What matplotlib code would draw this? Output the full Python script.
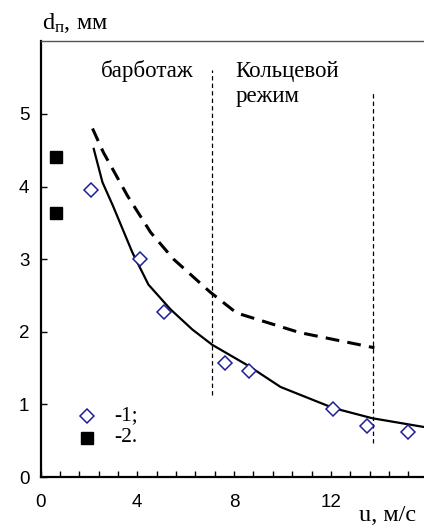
import matplotlib
matplotlib.use("Agg")
import matplotlib.pyplot as plt
from matplotlib.ticker import MultipleLocator, FixedLocator

plt.rcParams["font.family"] = ["Liberation Serif", "DejaVu Serif"]
plt.rcParams["mathtext.default"] = "regular"

# experimental points (1) — open diamonds
exp_u = [2.1, 4.13, 5.12, 7.64, 8.6, 12.07, 13.5, 15.17]
exp_d = [3.96, 3.0, 2.27, 1.57, 1.46, 0.94, 0.70, 0.62]

# reference points (2) — filled squares
ref_u = [0.62, 0.62]
ref_d = [4.41, 3.63]

# calculated curve (solid)
calc_u = [2.2, 2.56, 3.0, 3.8, 4.46, 5.37, 6.28, 7.1, 8.6, 9.92, 12.1, 13.7, 16.0]
calc_d = [4.52, 4.06, 3.73, 3.09, 2.65, 2.31, 2.03, 1.82, 1.53, 1.24, 0.95, 0.81, 0.68]

# upper estimate (dashed)
upper_u = [2.15, 2.6, 3.6, 4.55, 5.5, 7.0, 8.1, 10.7, 13.8]
upper_d = [4.8, 4.47, 3.87, 3.37, 3.0, 2.55, 2.26, 1.99, 1.78]

# regime boundaries: (u, d_bottom, d_top)
bounds = [(7.07, 1.13, 5.6), (13.76, 0.47, 5.3)]

x_ticks = [0, 4, 8, 12]
y_ticks = [0, 1, 2, 3, 4, 5]

fig = plt.figure(figsize=(4.24, 5.27), dpi=100)
W, H = 424, 527
x0, y0 = 40.5, 477
px_u, px_d = 24.2, 72.6
ax = fig.add_axes([x0 / W, (H - y0) / H, 16 * px_u / W, 6 * px_d / H])

ax.plot(calc_u, calc_d, color="black", lw=1.6, zorder=3)
ax.plot(upper_u, upper_d, color="black", lw=2.2, dashes=(4.5, 2.7), zorder=3)
for u, lo, hi in bounds:
    ax.plot([u, u], [lo, hi], color="black", lw=0.9, dashes=(3.5, 2.5), zorder=2)

ax.plot(exp_u, exp_d, ls="none", marker="D", ms=7.4, mfc="white",
        mec="#1f1f99", mew=1.1, zorder=4)
ax.plot(ref_u, ref_d, ls="none", marker="s", ms=8.2, color="black", zorder=4)

# legend drawn by hand
ax.plot([1.94], [0.84], ls="none", marker="D", ms=7.4, mfc="white",
        mec="#1f1f99", mew=1.1)
ax.plot([1.94], [0.54], ls="none", marker="s", ms=8.2, color="black")
ax.text(3.05, 0.84, "-1;", fontsize=15.5, va="center")
ax.text(3.05, 0.54, "-2.", fontsize=15.5, va="center")

ax.text(2.5, 5.51, "барботаж", fontsize=16.5, va="baseline")
ax.text(8.06, 5.51, "Кольцевой", fontsize=16.5, va="baseline")
ax.text(8.06, 5.17, "режим", fontsize=16.5, va="baseline")

ax.set_xlim(0, 16)
ax.set_ylim(0, 6)
ax.xaxis.set_major_locator(FixedLocator(x_ticks))
ax.xaxis.set_minor_locator(MultipleLocator(0.8))
ax.yaxis.set_major_locator(FixedLocator(y_ticks))
ax.tick_params(which="both", direction="in", top=False, right=False,
               width=1.0, length=4.5, labelsize=13.5, labelfontfamily="Liberation Sans")
ax.tick_params(axis="x", which="both", pad=12)
ax.tick_params(axis="y", pad=8)

for side in ("left", "bottom"):
    ax.spines[side].set_linewidth(1.6)
ax.spines["top"].set_linewidth(1.0)
ax.spines["top"].set_color("#555555")
ax.spines["right"].set_visible(False)

fig.text(42 / W, 1 - 29 / H, r"d$_{п}$, мм", fontsize=17.5, va="baseline")
fig.text(359 / W, 1 - 521 / H, "u, м/с", fontsize=17.5, va="baseline")

fig.savefig("out.png", dpi=100)
